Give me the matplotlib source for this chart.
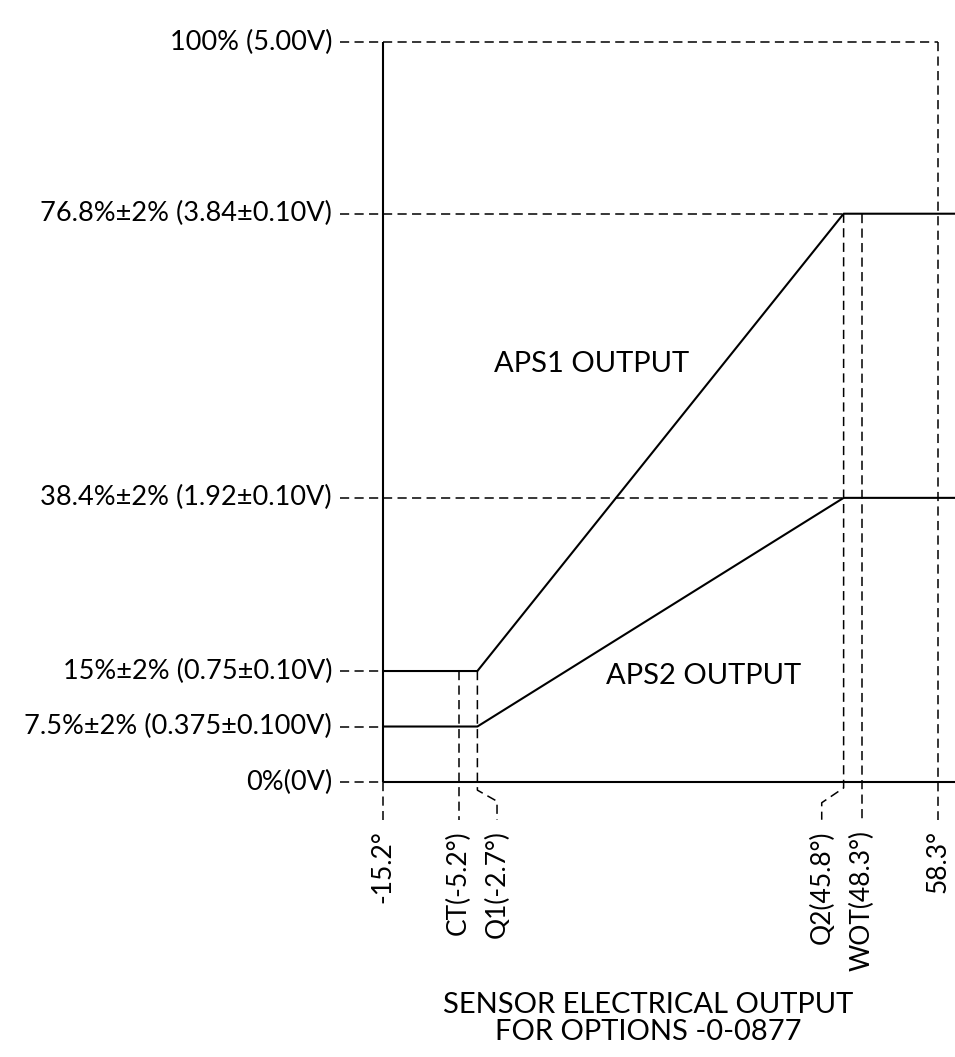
import matplotlib
matplotlib.use("Agg")
import matplotlib.pyplot as plt

# sensor output schematic, angles in degrees, output in percent
angle_min = -15.2
angle_ct = -5.2
angle_q1 = -2.7
angle_q2 = 45.8
angle_wot = 48.3
angle_max = 58.3

levels = [100, 76.8, 38.4, 15, 7.5, 0]
level_labels = ["100% (5.00V)",
                "76.8%\u00b12% (3.84\u00b10.10V)",
                "38.4%\u00b12% (1.92\u00b10.10V)",
                "15%\u00b12% (0.75\u00b10.10V)",
                "7.5%\u00b12% (0.375\u00b10.100V)",
                "0%(0V)"]

angle_ticks = [angle_min, angle_ct, angle_q1, angle_q2, angle_wot, angle_max]
angle_labels = ["-15.2\u00b0", "CT(-5.2\u00b0)", "Q1(-2.7\u00b0)",
                "Q2(45.8\u00b0)", "WOT(48.3\u00b0)", "58.3\u00b0"]

aps1_lo, aps1_hi = 15, 76.8
aps2_lo, aps2_hi = 7.5, 38.4

plt.rcParams["font.family"] = ["Lato", "DejaVu Sans"]

fig = plt.figure(figsize=(9.55, 10.57), dpi=100)
ax = fig.add_axes([0, 0, 1, 1])
ax.set_xlim(-65.92, 60.55)
ax.set_ylim(-37.16, 105.68)
ax.axis("off")

x_right = ax.get_xlim()[1]
solid = dict(color="black", lw=1.5, solid_capstyle="butt")
dash = dict(color="black", lw=1.1, linestyle=(0, (6, 3.5)))

# output curves
ax.plot([angle_min, angle_q1, angle_q2, x_right],
        [aps1_lo, aps1_lo, aps1_hi, aps1_hi], **solid)
ax.plot([angle_min, angle_q1, angle_q2, x_right],
        [aps2_lo, aps2_lo, aps2_hi, aps2_hi], **solid)

# axes lines
ax.plot([angle_min, angle_min], [0, 100], **solid)
ax.plot([angle_min, x_right], [0, 0], **solid)

# left guide dashes + labels
guide_x0 = -20.9
for lv, lab in zip(levels, level_labels):
    ax.plot([guide_x0, angle_min], [lv, lv], **dash)
    ax.text(-21.95, lv, lab, ha="right", va="center", fontsize=19.5)

ax.plot([angle_min, angle_max], [100, 100], **dash)
ax.plot([angle_min, angle_q2], [aps1_hi, aps1_hi], **dash)
ax.plot([angle_min, angle_q2], [aps2_hi, aps2_hi], **dash)

# vertical guides
y_end = -5.1
ax.plot([angle_min, angle_min], [0, y_end], **dash)
ax.plot([angle_ct, angle_ct], [aps1_lo, y_end], **dash)
ax.plot([angle_wot, angle_wot], [aps1_hi, y_end], **dash)
ax.plot([angle_max, angle_max], [100, y_end], **dash)

# doglegs for Q1 / Q2 so their labels don't collide
q1_lab = angle_q1 + 2.6
q2_lab = angle_q2 - 2.9
ax.plot([angle_q1, angle_q1, q1_lab, q1_lab], [aps1_lo, -1.1, -2.6, y_end], **dash)
ax.plot([angle_q2, angle_q2, q2_lab, q2_lab], [aps1_hi, -0.8, -2.8, y_end], **dash)

label_x = [angle_min, angle_ct, q1_lab, q2_lab, angle_wot, angle_max]
for xv, lab in zip(label_x, angle_labels):
    ax.text(xv, -6.5, lab, rotation=90, ha="center", va="top", fontsize=19)

ax.text(12.48, 56.5, "APS1 OUTPUT", ha="center", va="center", fontsize=21)
ax.text(27.3, 14.3, "APS2 OUTPUT", ha="center", va="center", fontsize=21)

ax.text(19.9, -32.0, "SENSOR ELECTRICAL OUTPUT\nFOR OPTIONS -0-0877",
        ha="center", va="center", fontsize=21, linespacing=1.05)

fig.savefig("out.png", dpi=100)
